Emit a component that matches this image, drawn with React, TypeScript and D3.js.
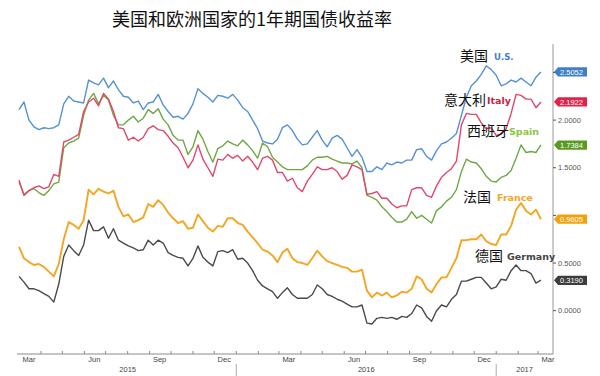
import React from "react";
import * as d3 from "d3";

const START = new Date(2015, 2, 1);
const AXIS_END = new Date(2017, 2, 22);

const usValues = [2.11,2.19,2.00,1.93,1.90,1.92,1.91,1.92,1.95,2.17,
2.25,2.20,2.19,2.18,2.42,2.39,2.37,2.44,2.34,2.41,
2.32,2.25,2.24,2.18,2.20,2.11,2.18,2.19,2.27,2.16,
2.09,2.03,2.04,2.01,2.07,2.17,2.33,2.28,2.24,2.19,
2.26,2.25,2.23,2.27,2.21,2.13,2.09,2.00,1.91,1.78,
1.76,1.75,1.80,1.92,1.95,1.89,1.80,1.74,1.75,1.82,
1.89,1.79,1.72,1.81,1.84,1.80,1.71,1.62,1.69,1.61,
1.46,1.46,1.51,1.48,1.55,1.53,1.56,1.55,1.58,1.58,
1.69,1.70,1.62,1.58,1.68,1.75,1.77,1.81,1.86,2.05,
2.24,2.36,2.41,2.48,2.57,2.53,2.47,2.36,2.38,2.42,
2.40,2.44,2.40,2.36,2.45,2.505];

const italyValues = [1.37,1.21,1.26,1.29,1.31,1.28,1.30,1.43,1.41,1.77,
1.79,1.82,1.85,2.09,2.19,2.23,2.15,2.28,2.22,2.09,
1.92,1.91,1.79,1.82,1.78,1.82,1.91,1.94,1.90,1.89,
1.83,1.76,1.71,1.61,1.50,1.58,1.74,1.59,1.50,1.41,
1.59,1.58,1.64,1.60,1.63,1.57,1.62,1.56,1.48,1.60,
1.62,1.58,1.45,1.45,1.36,1.39,1.29,1.25,1.36,1.43,
1.51,1.48,1.48,1.50,1.46,1.38,1.42,1.53,1.51,1.48,
1.22,1.23,1.25,1.18,1.18,1.12,1.08,1.10,1.10,1.27,
1.29,1.29,1.21,1.19,1.31,1.40,1.45,1.49,1.57,1.95,
2.07,2.06,2.06,1.97,1.91,1.92,1.84,1.85,1.91,2.07,
2.27,2.26,2.22,2.22,2.13,2.19];

const spainValues = [1.35,1.22,1.26,1.28,1.24,1.21,1.26,1.33,1.35,1.71,
1.76,1.78,1.81,2.05,2.21,2.28,2.17,2.26,2.21,2.05,
1.95,1.95,2.00,2.04,1.98,2.02,2.11,2.07,2.12,2.01,
1.95,1.84,1.79,1.79,1.64,1.72,1.89,1.80,1.67,1.56,
1.70,1.73,1.78,1.75,1.73,1.79,1.74,1.68,1.60,1.76,
1.72,1.61,1.56,1.51,1.48,1.48,1.48,1.48,1.52,1.58,
1.61,1.61,1.62,1.59,1.57,1.55,1.55,1.54,1.57,1.50,
1.21,1.19,1.16,1.09,1.04,0.98,0.93,0.93,0.96,1.04,
0.97,1.00,0.96,0.92,1.05,1.09,1.15,1.19,1.27,1.46,
1.59,1.56,1.55,1.49,1.41,1.36,1.35,1.40,1.42,1.47,
1.60,1.74,1.66,1.67,1.66,1.74];

const franceValues = [0.67,0.55,0.51,0.48,0.49,0.46,0.41,0.36,0.49,0.75,
0.93,0.90,0.86,0.95,1.27,1.22,1.28,1.25,1.23,1.26,
1.09,0.99,1.01,0.93,0.95,0.98,1.12,1.09,1.16,1.11,
1.03,0.97,0.92,0.94,0.86,0.87,1.01,0.94,0.87,0.83,
0.89,0.88,0.97,0.97,0.92,0.90,0.83,0.77,0.71,0.64,
0.62,0.58,0.51,0.61,0.65,0.55,0.51,0.50,0.48,0.55,
0.63,0.57,0.52,0.50,0.48,0.46,0.45,0.41,0.41,0.43,
0.21,0.14,0.19,0.16,0.19,0.14,0.16,0.20,0.19,0.23,
0.36,0.33,0.23,0.19,0.28,0.35,0.35,0.45,0.55,0.74,
0.74,0.75,0.75,0.80,0.73,0.70,0.69,0.80,0.80,0.89,
1.06,1.13,1.05,1.01,1.06,0.96];

const germanyValues = [0.36,0.30,0.23,0.23,0.21,0.18,0.15,0.09,0.28,0.57,
0.69,0.63,0.58,0.69,0.95,0.84,0.84,0.88,0.76,0.86,
0.74,0.71,0.68,0.66,0.63,0.64,0.74,0.69,0.74,0.71,
0.61,0.58,0.56,0.55,0.47,0.55,0.68,0.56,0.51,0.47,
0.62,0.63,0.61,0.64,0.54,0.55,0.50,0.42,0.32,0.26,
0.23,0.20,0.13,0.19,0.24,0.17,0.13,0.13,0.13,0.17,
0.27,0.23,0.17,0.15,0.12,0.10,0.07,0.04,0.04,0.06,
-0.13,-0.14,-0.08,-0.07,-0.08,-0.07,-0.09,-0.06,-0.07,-0.03,
0.06,0.03,-0.06,-0.11,0.00,0.06,0.04,0.12,0.17,0.31,
0.31,0.33,0.35,0.35,0.29,0.23,0.25,0.33,0.32,0.42,
0.48,0.42,0.42,0.39,0.29,0.32];

const seriesNames = ["美国", "西班牙", "意大利", "法国", "德国"];
const seriesEnglish = ["U.S.", "Spain", "Italy", "France", "Germany"];
const lastValues = [2.5052, 1.7384, 2.1922, 0.9605, 0.319];
const yTicks = [0, 0.5, 1.0, 1.5, 2.0, 2.5];
const monthLabels = ["Mar", "Jun", "Sep", "Dec", "Mar", "Jun", "Sep", "Dec", "Mar"];
const monthLabelDates = ["2015-03-15", "2015-06-15", "2015-09-15", "2015-12-15", "2016-03-15", "2016-06-15", "2016-09-15", "2016-12-15", "2017-03-15"];
const yearLabels = ["2015", "2016", "2017"];
const title = "美国和欧洲国家的1年期国债收益率";

const seriesValues = [usValues, spainValues, italyValues, franceValues, germanyValues];
const lineColors = ["#5592d3", "#6fa843", "#e0486a", "#f4a622", "#4a4a4a"];
const lineWidths = [1.4, 1.4, 1.4, 1.9, 1.4];
const badgeColors = ["#3f7fc6", "#5b9a22", "#e1234a", "#f0a20c", "#3d3d3d"];
const englishColors = ["#3f7fc6", "#8cc63f", "#c8243c", "#f4a622", "#444444"];
// label anchor positions (chinese start x, baseline y, english start x)
const labelPos = [
  [460, 61, 494],
  [467, 136, 509],
  [444, 105, 487],
  [463, 202, 497],
  [475, 261, 507],
];

function parse(s: string) {
  const [y, m, d] = s.split("-").map(Number);
  return new Date(y, m - 1, d);
}

export default function App() {
  const W = 600, H = 376;
  const x = d3.scaleTime().domain([START, AXIS_END]).range([19, 553]);
  const y = d3.scaleLinear().domain([0, 2]).range([310.7, 120.1]);
  const axisY = 354;
  const axisX = 553;

  const line = d3
    .line<number>()
    .x((_, i) => x(d3.timeDay.offset(START, i * 7)))
    .y((d) => y(d));

  const monthTicks = d3.timeMonth.range(d3.timeMonth.offset(START, 1), AXIS_END);
  const yearStarts = [new Date(2016, 0, 1), new Date(2017, 0, 1)];
  const yearSpans: [Date, Date][] = [
    [START, yearStarts[0]],
    [yearStarts[0], yearStarts[1]],
    [yearStarts[1], AXIS_END],
  ];

  const badgeYs = lastValues.map((v) => y(v));
  const labelHidden = (t: number) => badgeYs.some((by) => Math.abs(by - y(t)) < 8);

  const cjk = "'Noto Sans CJK SC', 'Noto Sans', sans-serif";
  const small = "'Liberation Sans', 'DejaVu Sans', sans-serif";

  return (
    <svg width={W} height={H} style={{ position: "absolute", left: 0, top: 0, background: "#fff" }}>
      <rect x={0} y={0} width={W} height={H} fill="#fff" />
      <text x={252} y={26} textAnchor="middle" fontFamily={cjk} fontSize={18} fill="#111">
        {title}
      </text>

      {/* right axis */}
      <line x1={axisX} x2={axisX} y1={44} y2={axisY} stroke="#9a9a9a" strokeWidth={1} />
      {yTicks.map((t) => (
        <g key={t}>
          <line x1={axisX} x2={axisX + 3} y1={y(t)} y2={y(t)} stroke="#555" strokeWidth={1} />
          {!labelHidden(t) && (
            <text x={axisX + 5} y={y(t) + 2.7} fontFamily={small} fontSize={7.5} fill="#555">
              {d3.format(".4f")(t)}
            </text>
          )}
        </g>
      ))}

      {/* bottom axis */}
      <line x1={17} x2={axisX} y1={axisY} y2={axisY} stroke="#8a8a8a" strokeWidth={1} />
      {monthTicks.map((m, i) => (
        <line key={i} x1={x(m)} x2={x(m)} y1={axisY - 3} y2={axisY} stroke="#8a8a8a" strokeWidth={1} />
      ))}
      {monthLabels.map((m, i) => (
        <text key={i} x={x(parse(monthLabelDates[i]))} y={362} textAnchor="middle" fontFamily={small} fontSize={7.5} fill="#444">
          {m}
        </text>
      ))}
      {yearLabels.map((yl, i) => (
        <text key={yl} x={(x(yearSpans[i][0]) + x(yearSpans[i][1])) / 2} y={372} textAnchor="middle" fontFamily={small} fontSize={7.5} fill="#444">
          {yl}
        </text>
      ))}
      {yearStarts.map((d, i) => (
        <line key={i} x1={x(d)} x2={x(d)} y1={364} y2={376} stroke="#aaa" strokeWidth={1} />
      ))}

      {/* lines */}
      {seriesValues.map((vals, i) => (
        <path key={i} d={line(vals) || ""} fill="none" stroke={lineColors[i]} strokeWidth={lineWidths[i]} strokeLinejoin="round" />
      ))}

      {/* series labels */}
      {seriesNames.map((n, i) => (
        <g key={n}>
          <text x={labelPos[i][0]} y={labelPos[i][1]} fontFamily={cjk} fontSize={14} fill="#111">
            {n}
          </text>
          <text x={labelPos[i][2]} y={labelPos[i][1] - 1} fontFamily="'DejaVu Sans', sans-serif" fontWeight="bold" fontSize={i === 0 ? 8.5 : 9.5} fill={englishColors[i]}>
            {seriesEnglish[i]}
          </text>
        </g>
      ))}

      {/* value badges */}
      {lastValues.map((v, i) => {
        const cy = y(v);
        const x0 = axisX + 1, x1 = 587, h = 4.6;
        return (
          <g key={i}>
            <path d={`M${x0},${cy} L${x0 + 4},${cy - h} L${x1},${cy - h} L${x1},${cy + h} L${x0 + 4},${cy + h} Z`} fill={badgeColors[i]} />
            <text x={x0 + 6} y={cy + 2.8} fontFamily={small} fontSize={7.5} fill="#fff">
              {d3.format(".4f")(v)}
            </text>
          </g>
        );
      })}
    </svg>
  );
}
